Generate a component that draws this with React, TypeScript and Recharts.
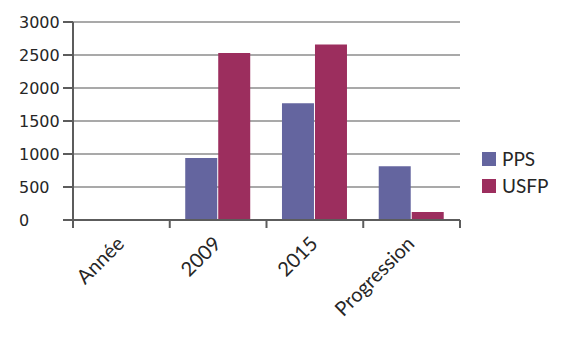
import { BarChart, Bar, XAxis, YAxis, CartesianGrid, Legend } from "recharts";

const categories = ["Année", "2009", "2015", "Progression"];
const ppsValues = [null, 940, 1770, 815];
const usfpValues = [null, 2530, 2660, 120];
const yTicks = [0, 500, 1000, 1500, 2000, 2500, 3000];

const series = [
  { key: "PPS", color: "#64659f" },
  { key: "USFP", color: "#9c2e5e" },
];

const data = categories.map((name, i) => ({
  name,
  PPS: ppsValues[i],
  USFP: usfpValues[i],
}));

const AXIS = "#5c5c5c";
const TEXT = "#262626";

function XTick(props: any) {
  const { x, y, payload, index, width, visibleTicksCount } = props;
  const half = payload.offset || width / visibleTicksCount / 2;
  const last = index === visibleTicksCount - 1;
  return (
    <g>
      <line x1={x - half} y1={y} x2={x - half} y2={y + 8} stroke={AXIS} strokeWidth={2} />
      {last && <line x1={x + half} y1={y} x2={x + half} y2={y + 8} stroke={AXIS} strokeWidth={2} />}
      <text
        x={x + 4}
        y={y + 25}
        transform={`rotate(-45 ${x + 4} ${y + 25})`}
        textAnchor="end"
        fill={TEXT}
        fontSize={20}
        fontFamily="Lato, 'Open Sans', sans-serif"
      >
        {payload.value}
      </text>
    </g>
  );
}

function YTick(props: any) {
  const { x, y, payload } = props;
  return (
    <text
      x={x - 44}
      y={y}
      dy="0.36em"
      textAnchor="start"
      fill={TEXT}
      fontSize={16}
      fontFamily="'DejaVu Sans', Verdana, sans-serif"
    >
      {payload.value}
    </text>
  );
}

function LegendBox() {
  return (
    <div style={{ fontFamily: "Lato, 'Open Sans', sans-serif", fontSize: 19, color: TEXT }}>
      {series.map((s) => (
        <div key={s.key} style={{ display: "flex", alignItems: "center", height: 27 }}>
          <span style={{ width: 14, height: 14, background: s.color, marginRight: 6, display: "inline-block" }} />
          <span>{s.key}</span>
        </div>
      ))}
    </div>
  );
}

export default function App() {
  return (
    <div style={{ position: "absolute", left: 0, top: 0, background: "#fff" }}>
      <BarChart
        width={570}
        height={345}
        data={data}
        margin={{ top: 22, right: 110, left: 0, bottom: 0 }}
        barCategoryGap="16%"
        barGap={1}
      >
        <CartesianGrid vertical={false} stroke="#8c8c8c" strokeWidth={1.5} />
        <XAxis
          dataKey="name"
          height={125}
          tickLine={false}
          tickSize={0}
          tickMargin={0}
          interval={0}
          axisLine={{ stroke: AXIS, strokeWidth: 2 }}
          tick={<XTick />}
        />
        <YAxis
          width={73}
          domain={[0, 3000]}
          ticks={yTicks}
          tickSize={10}
          tickMargin={0}
          interval={0}
          axisLine={{ stroke: AXIS, strokeWidth: 2 }}
          tickLine={{ stroke: AXIS, strokeWidth: 2 }}
          tick={<YTick />}
        />
        <Legend
          layout="vertical"
          align="center"
          verticalAlign="middle"
          wrapperStyle={{ left: 482, top: 145, width: 80 }}
          content={<LegendBox />}
        />
        {series.map((s) => (
          <Bar key={s.key} dataKey={s.key} fill={s.color} isAnimationActive={false} />
        ))}
      </BarChart>
    </div>
  );
}
